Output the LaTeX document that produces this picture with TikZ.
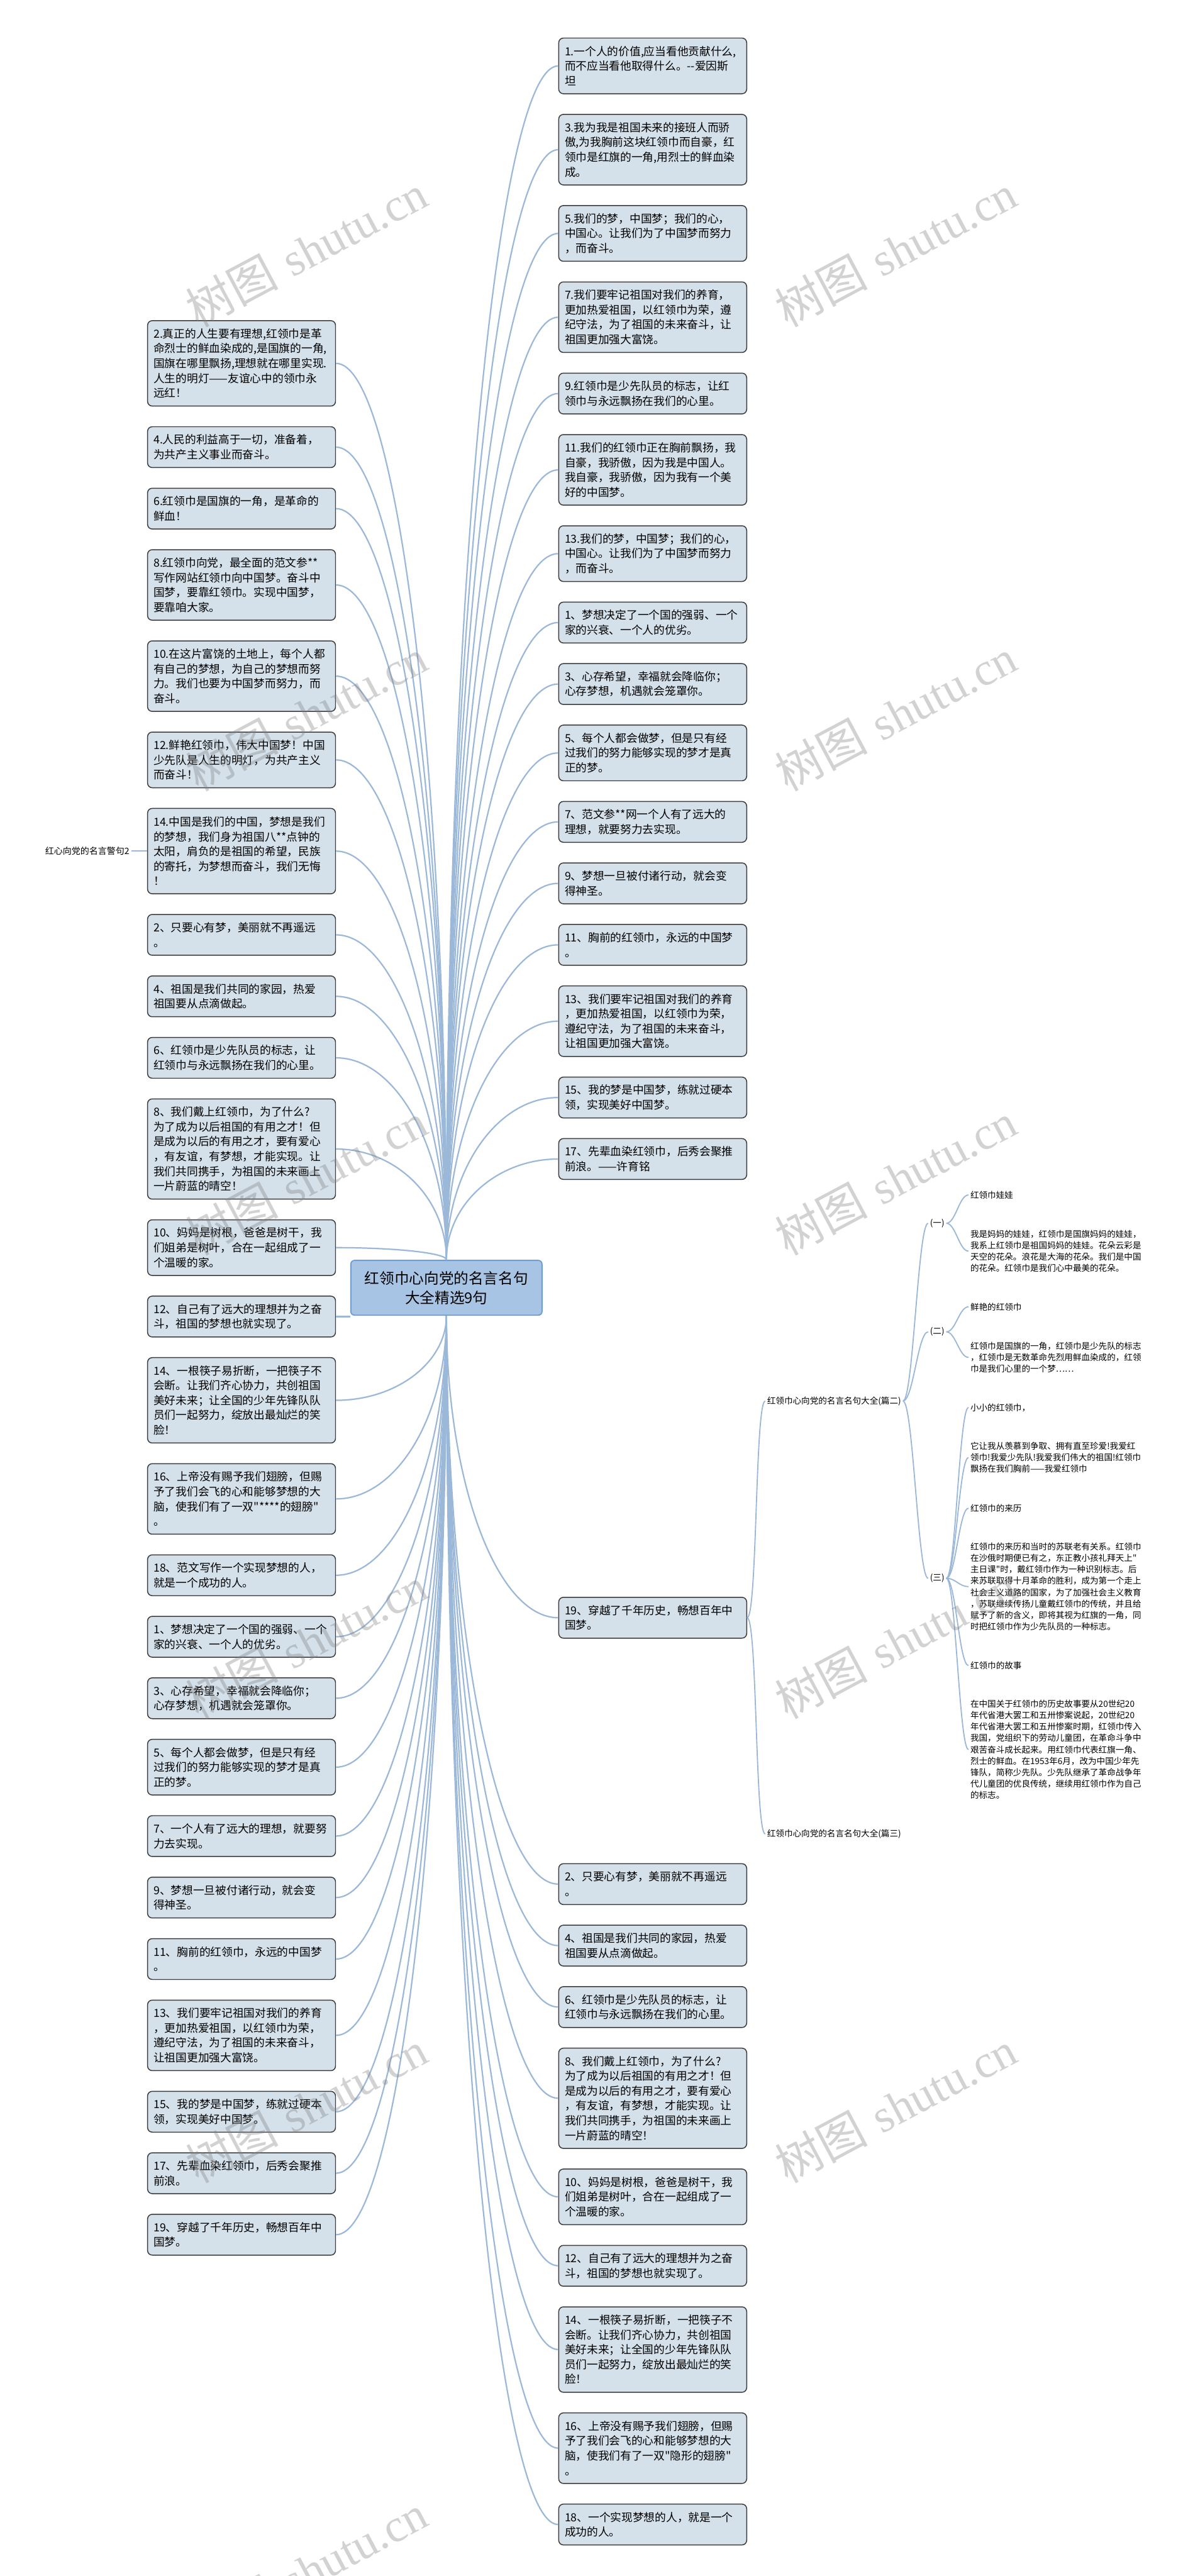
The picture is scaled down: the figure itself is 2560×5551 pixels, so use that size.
\documentclass[tikz,border=0pt]{standalone}
\usepackage{fontspec}
\newfontfamily\cjk{Noto Sans CJK SC}
\newfontfamily\wmfont{Liberation Serif}
\usetikzlibrary{calc,positioning}
\definecolor{edgec}{HTML}{9BB8D8}
\definecolor{boxfill}{HTML}{D4E0EA}
\definecolor{boxline}{HTML}{3C3C3C}
\definecolor{rootfill}{HTML}{A7C4E4}
\definecolor{rootline}{HTML}{6D9DD3}
\tikzset{
  qbox/.style={draw=boxline, line width=2pt, fill=boxfill, rounded corners=10pt,
    anchor=north west, text width=379pt, align=left, inner xsep=13pt, inner ysep=0pt,
    minimum height={24pt+32pt*#1}, font=\cjk\fontsize{24}{32}\selectfont},
  rootbox/.style={draw=rootline, line width=2.5pt, fill=rootfill, rounded corners=8pt,
    minimum width=412pt, minimum height=118pt, align=center,
    font=\cjk\fontsize{32}{42}\selectfont},
  edge/.style={draw=edgec, line width=3pt},
  thinedge/.style={draw=edgec, line width=2.5pt},
  plain/.style={font=\cjk\fontsize{18.4}{24.5}\selectfont, inner xsep=4pt, inner ysep=2pt, anchor=west, align=left},
  para/.style={plain, text width=372pt},
  wm/.style={rotate=28, text=gray, opacity=0.35, font=\fontsize{100}{100}\selectfont}
}
\begin{document}
\begin{tikzpicture}[x=1pt,y=1pt]
\path[use as bounding box, fill=white] (0,0) rectangle (2560,-5551);

% root
\node[rootbox] (root) at (962,-2775) {红领巾心向党的名言名句\\大全精选9句};

% left column
\node[qbox=5] (L1) at (317,-690) {2.真正的人生要有理想,红领巾是革\\命烈士的鲜血染成的,是国旗的一角,\\国旗在哪里飘扬,理想就在哪里实现.\\人生的明灯——友谊心中的领巾永\\远红！};
\node[qbox=2, below=42.5pt of L1] (L2) {4.人民的利益高于一切，准备着，\\为共产主义事业而奋斗。};
\node[qbox=2, below=42.5pt of L2] (L3) {6.红领巾是国旗的一角，是革命的\\鲜血！};
\node[qbox=4, below=42.5pt of L3] (L4) {8.红领巾向党，最全面的范文参**\\写作网站红领巾向中国梦。奋斗中\\国梦，要靠红领巾。实现中国梦，\\要靠咱大家。};
\node[qbox=4, below=42.5pt of L4] (L5) {10.在这片富饶的土地上，每个人都\\有自己的梦想，为自己的梦想而努\\力。我们也要为中国梦而努力，而\\奋斗。};
\node[qbox=3, below=42.5pt of L5] (L6) {12.鲜艳红领巾，伟大中国梦！中国\\少先队是人生的明灯，为共产主义\\而奋斗！};
\node[qbox=5, below=42.5pt of L6] (L7) {14.中国是我们的中国，梦想是我们\\的梦想，我们身为祖国八**点钟的\\太阳，肩负的是祖国的希望，民族\\的寄托，为梦想而奋斗，我们无悔\\！};
\node[qbox=2, below=42.5pt of L7] (L8) {2、只要心有梦，美丽就不再遥远\\。};
\node[qbox=2, below=42.5pt of L8] (L9) {4、祖国是我们共同的家园，热爱\\祖国要从点滴做起。};
\node[qbox=2, below=42.5pt of L9] (L10) {6、红领巾是少先队员的标志，让\\红领巾与永远飘扬在我们的心里。};
\node[qbox=6, below=42.5pt of L10] (L11) {8、我们戴上红领巾，为了什么?\\为了成为以后祖国的有用之才！但\\是成为以后的有用之才，要有爱心\\，有友谊，有梦想，才能实现。让\\我们共同携手，为祖国的未来画上\\一片蔚蓝的晴空！};
\node[qbox=3, below=42.5pt of L11] (L12) {10、妈妈是树根，爸爸是树干，我\\们姐弟是树叶，合在一起组成了一\\个温暖的家。};
\node[qbox=2, below=42.5pt of L12] (L13) {12、自己有了远大的理想并为之奋\\斗，祖国的梦想也就实现了。};
\node[qbox=5, below=42.5pt of L13] (L14) {14、一根筷子易折断，一把筷子不\\会断。让我们齐心协力，共创祖国\\美好未来；让全国的少年先锋队队\\员们一起努力，绽放出最灿烂的笑\\脸！};
\node[qbox=4, below=42.5pt of L14] (L15) {16、上帝没有赐予我们翅膀，但赐\\予了我们会飞的心和能够梦想的大\\脑，使我们有了一双"****的翅膀"\\。};
\node[qbox=2, below=42.5pt of L15] (L16) {18、范文写作一个实现梦想的人，\\就是一个成功的人。};
\node[qbox=2, below=42.5pt of L16] (L17) {1、梦想决定了一个国的强弱、一个\\家的兴衰、一个人的优劣。};
\node[qbox=2, below=42.5pt of L17] (L18) {3、心存希望，幸福就会降临你；\\心存梦想，机遇就会笼罩你。};
\node[qbox=3, below=42.5pt of L18] (L19) {5、每个人都会做梦，但是只有经\\过我们的努力能够实现的梦才是真\\正的梦。};
\node[qbox=2, below=42.5pt of L19] (L20) {7、一个人有了远大的理想，就要努\\力去实现。};
\node[qbox=2, below=42.5pt of L20] (L21) {9、梦想一旦被付诸行动，就会变\\得神圣。};
\node[qbox=2, below=42.5pt of L21] (L22) {11、胸前的红领巾，永远的中国梦\\。};
\node[qbox=4, below=42.5pt of L22] (L23) {13、我们要牢记祖国对我们的养育\\，更加热爱祖国，以红领巾为荣，\\遵纪守法，为了祖国的未来奋斗，\\让祖国更加强大富饶。};
\node[qbox=2, below=42.5pt of L23] (L24) {15、我的梦是中国梦，练就过硬本\\领，实现美好中国梦。};
\node[qbox=2, below=42.5pt of L24] (L25) {17、先辈血染红领巾，后秀会聚推\\前浪。};
\node[qbox=2, below=42.5pt of L25] (L26) {19、穿越了千年历史，畅想百年中\\国梦。};

% label left of L7
\node[font=\cjk\fontsize{19}{24}\selectfont, anchor=east, inner xsep=4pt] (lab) at ($(L7.west)+(-34,0)$) {红心向党的名言警句2};

% right column
\node[qbox=3] (R1) at (1203,-81) {1.一个人的价值,应当看他贡献什么,\\而不应当看他取得什么。--爱因斯\\坦};
\node[qbox=4, below=42.5pt of R1] (R2) {3.我为我是祖国未来的接班人而骄\\傲,为我胸前这块红领巾而自豪，红\\领巾是红旗的一角,用烈士的鲜血染\\成。};
\node[qbox=3, below=42.5pt of R2] (R3) {5.我们的梦，中国梦；我们的心，\\中国心。让我们为了中国梦而努力\\，而奋斗。};
\node[qbox=4, below=42.5pt of R3] (R4) {7.我们要牢记祖国对我们的养育，\\更加热爱祖国，以红领巾为荣，遵\\纪守法，为了祖国的未来奋斗，让\\祖国更加强大富饶。};
\node[qbox=2, below=42.5pt of R4] (R5) {9.红领巾是少先队员的标志，让红\\领巾与永远飘扬在我们的心里。};
\node[qbox=4, below=42.5pt of R5] (R6) {11.我们的红领巾正在胸前飘扬，我\\自豪，我骄傲，因为我是中国人。\\我自豪，我骄傲，因为我有一个美\\好的中国梦。};
\node[qbox=3, below=42.5pt of R6] (R7) {13.我们的梦，中国梦；我们的心，\\中国心。让我们为了中国梦而努力\\，而奋斗。};
\node[qbox=2, below=42.5pt of R7] (R8) {1、梦想决定了一个国的强弱、一个\\家的兴衰、一个人的优劣。};
\node[qbox=2, below=42.5pt of R8] (R9) {3、心存希望，幸福就会降临你；\\心存梦想，机遇就会笼罩你。};
\node[qbox=3, below=42.5pt of R9] (R10) {5、每个人都会做梦，但是只有经\\过我们的努力能够实现的梦才是真\\正的梦。};
\node[qbox=2, below=42.5pt of R10] (R11) {7、范文参**网一个人有了远大的\\理想，就要努力去实现。};
\node[qbox=2, below=42.5pt of R11] (R12) {9、梦想一旦被付诸行动，就会变\\得神圣。};
\node[qbox=2, below=42.5pt of R12] (R13) {11、胸前的红领巾，永远的中国梦\\。};
\node[qbox=4, below=42.5pt of R13] (R14) {13、我们要牢记祖国对我们的养育\\，更加热爱祖国，以红领巾为荣，\\遵纪守法，为了祖国的未来奋斗，\\让祖国更加强大富饶。};
\node[qbox=2, below=42.5pt of R14] (R15) {15、我的梦是中国梦，练就过硬本\\领，实现美好中国梦。};
\node[qbox=2, below=42.5pt of R15] (R16) {17、先辈血染红领巾，后秀会聚推\\前浪。——许育铭};
\node[qbox=2] (R17) at (1203,-3441) {19、穿越了千年历史，畅想百年中\\国梦。};
\node[qbox=2] (R18) at (1203,-4015) {2、只要心有梦，美丽就不再遥远\\。};
\node[qbox=2, below=42.5pt of R18] (R19) {4、祖国是我们共同的家园，热爱\\祖国要从点滴做起。};
\node[qbox=2, below=42.5pt of R19] (R20) {6、红领巾是少先队员的标志，让\\红领巾与永远飘扬在我们的心里。};
\node[qbox=6, below=42.5pt of R20] (R21) {8、我们戴上红领巾，为了什么?\\为了成为以后祖国的有用之才！但\\是成为以后的有用之才，要有爱心\\，有友谊，有梦想，才能实现。让\\我们共同携手，为祖国的未来画上\\一片蔚蓝的晴空！};
\node[qbox=3, below=42.5pt of R21] (R22) {10、妈妈是树根，爸爸是树干，我\\们姐弟是树叶，合在一起组成了一\\个温暖的家。};
\node[qbox=2, below=42.5pt of R22] (R23) {12、自己有了远大的理想并为之奋\\斗，祖国的梦想也就实现了。};
\node[qbox=5, below=42.5pt of R23] (R24) {14、一根筷子易折断，一把筷子不\\会断。让我们齐心协力，共创祖国\\美好未来；让全国的少年先锋队队\\员们一起努力，绽放出最灿烂的笑\\脸！};
\node[qbox=4, below=42.5pt of R24] (R25) {16、上帝没有赐予我们翅膀，但赐\\予了我们会飞的心和能够梦想的大\\脑，使我们有了一双"隐形的翅膀"\\。};
\node[qbox=2, below=42.5pt of R25] (R26) {18、一个实现梦想的人，就是一个\\成功的人。};

% far right detail
\node[plain] (P2) at (1649,-3019) {红领巾心向党的名言名句大全(篇二)};
\node[plain] (P3) at (1649,-3952) {红领巾心向党的名言名句大全(篇三)};
\node[plain] (D1) at (2000,-2636) {(一)};
\node[plain] (D2) at (2000,-2870) {(二)};
\node[plain] (D3) at (2000,-3401) {(三)};
\node[plain] (A1) at (2087,-2575) {红领巾娃娃};
\node[para] (A2) at (2087,-2696) {我是妈妈的娃娃，红领巾是国旗妈妈的娃娃，\\我系上红领巾是祖国妈妈的娃娃。花朵云彩是\\天空的花朵。浪花是大海的花朵。我们是中国\\的花朵。红领巾是我们心中最美的花朵。};
\node[plain] (B1) at (2087,-2816) {鲜艳的红领巾};
\node[para] (B2) at (2087,-2925) {红领巾是国旗的一角，红领巾是少先队的标志\\，红领巾是无数革命先烈用鲜血染成的，红领\\巾是我们心里的一个梦……};
\node[plain] (C1) at (2087,-3033) {小小的红领巾，};
\node[para] (C2) at (2087,-3141) {它让我从羡慕到争取、拥有直至珍爱!我爱红\\领巾!我爱少先队!我爱我们伟大的祖国!红领巾\\飘扬在我们胸前——我爱红领巾};
\node[plain] (C3) at (2087,-3250) {红领巾的来历};
\node[para] (C4) at (2087,-3419) {红领巾的来历和当时的苏联老有关系。红领巾\\在沙俄时期便已有之，东正教小孩礼拜天上"\\主日课"时，戴红领巾作为一种识别标志。后\\来苏联取得十月革命的胜利，成为第一个走上\\社会主义道路的国家，为了加强社会主义教育\\，苏联继续传扬儿童戴红领巾的传统，并且给\\赋予了新的含义，即将其视为红旗的一角，同\\时把红领巾作为少先队员的一种标志。};
\node[plain] (C5) at (2087,-3589) {红领巾的故事};
\node[para] (C6) at (2087,-3770) {在中国关于红领巾的历史故事要从20世纪20\\年代省港大罢工和五卅惨案说起，20世纪20\\年代省港大罢工和五卅惨案时期，红领巾传入\\我国，党组织下的劳动儿童团，在革命斗争中\\艰苦奋斗成长起来。用红领巾代表红旗一角、\\烈士的鲜血。在1953年6月，改为中国少年先\\锋队，简称少先队。少先队继承了革命战争年\\代儿童团的优良传统，继续用红领巾作为自己\\的标志。};

% edges: left above root
\foreach \i in {1,...,12}
  \draw[edge] (root.north) .. controls ($(root.north)!0.55!(root.north|-L\i.east)$) and ($(L\i.east)!0.55!(L\i.east-|root.north)$) .. (L\i.east);
\draw[edge] (L13.east) -- (L13.east-|root.west);
\foreach \i in {14,...,26}
  \draw[edge] (root.south) .. controls ($(root.south)!0.55!(root.south|-L\i.east)$) and ($(L\i.east)!0.55!(L\i.east-|root.south)$) .. (L\i.east);
% edges: right
\foreach \i in {1,...,16}
  \draw[edge] (root.north) .. controls ($(root.north)!0.55!(root.north|-R\i.west)$) and ($(R\i.west)!0.55!(R\i.west-|root.north)$) .. (R\i.west);
\foreach \i in {17,...,26}
  \draw[edge] (root.south) .. controls ($(root.south)!0.55!(root.south|-R\i.west)$) and ($(R\i.west)!0.55!(R\i.west-|root.south)$) .. (R\i.west);
% label edge
\draw[thinedge] (L7.west) -- (lab.east);
% detail edges
\draw[thinedge] (R17.east) .. controls +(22,0) and +(-22,0) .. (P2.west);
\draw[thinedge] (R17.east) .. controls +(22,0) and +(-22,0) .. (P3.west);
\foreach \d in {D1,D2,D3}
  \draw[thinedge] (P2.east) .. controls +(22,0) and +(-22,0) .. (\d.west);
\foreach \a/\b in {D1/A1,D1/A2,D2/B1,D2/B2,D3/C1,D3/C2,D3/C3,D3/C4,D3/C5,D3/C6}
  \draw[thinedge] (\a.east) .. controls +(20,0) and +(-20,0) .. (\b.west);

% watermarks
\foreach \k in {0,...,5}
  \node[wm] (wl\k) at (660,{-540-1000*\k}) {{\cjk 树图} {\wmfont shutu.cn}};
\foreach \k in {0,...,4}
  \node[wm] (wr\k) at (1930,{-540-1000*\k}) {{\cjk 树图} {\wmfont shutu.cn}};
\end{tikzpicture}
\end{document}
